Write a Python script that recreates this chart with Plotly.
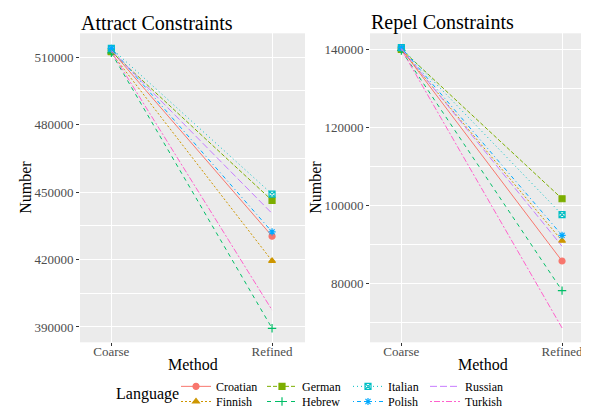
import plotly.graph_objects as go

methods = ["Coarse", "Refined"]
languages = ["Croatian", "Finnish", "German", "Hebrew", "Italian", "Polish", "Russian", "Turkish"]

attract_coarse = [513000, 512000, 512500, 512000, 514000, 514000, 513000, 512500]
attract_refined = [430400, 419400, 446300, 389400, 449100, 432300, 440500, 397500]
repel_coarse = [140200, 140000, 140100, 139800, 140500, 140500, 140300, 140100]
repel_refined = [85700, 90900, 101700, 78100, 97600, 92300, 89500, 68500]

attract_ticks = [390000, 420000, 450000, 480000, 510000]
attract_minor = [405000, 435000, 465000, 495000]
repel_ticks = [80000, 100000, 120000, 140000]
repel_minor = [70000, 90000, 110000, 130000]

colors = ["#F8766D", "#CD9600", "#7CAE00", "#00BE67", "#00BFC4", "#00A9FF", "#C77CFF", "#FF61CC"]
symbols = ["circle", "triangle-up", "square", "cross-thin-open", "square-x-open", "asterisk-open", None, None]
dashes = ["solid", "2px,2px", "4px,2px", "4px,4px", "1px,3px", "1px,3px,4px,3px", "7px,3px", "2px,2px,6px,2px"]

W, H = 589, 408
FONT = "Liberation Serif, Times New Roman, serif"

def px(x):
    return x / W

def py(y):
    return (H - y) / H

fig = go.Figure()

# legend placement (column-major like ggplot)
leg_text_x = [216, 216, 302, 302, 388, 388, 465, 465]
leg_row_y = [384, 399.5, 384, 399.5, 384, 399.5, 384, 399.5]

for i, lang in enumerate(languages):
    legname = "legend" if i == 0 else f"legend{i+1}"
    sym = symbols[i]
    mode = "lines+markers" if sym else "lines"
    marker = dict(symbol=sym, size=6, color=colors[i], line=dict(color=colors[i], width=1.2)) if sym else None
    fig.add_trace(go.Scatter(
        x=methods, y=[attract_coarse[i], attract_refined[i]], mode=mode, name=lang,
        line=dict(color=colors[i], width=1.0, dash=dashes[i]), marker=marker,
        xaxis="x", yaxis="y", legend=legname, showlegend=True))
    fig.add_trace(go.Scatter(
        x=methods, y=[repel_coarse[i], repel_refined[i]], mode=mode, name=lang,
        line=dict(color=colors[i], width=1.0, dash=dashes[i]), marker=marker,
        xaxis="x2", yaxis="y2", showlegend=False))

ydom = [py(339.3), py(25.7)]

def axis(**kw):
    d = dict(
        showline=False, zeroline=False, ticks="outside", ticklen=3, tickcolor="#333333",
        tickwidth=1, gridcolor="white", gridwidth=1.1, showgrid=True,
        tickfont=dict(family=FONT, size=13, color="#4D4D4D"))
    d.update(kw)
    return d

layout = dict(
    width=W, height=H, autosize=False,
    margin=dict(l=0, r=0, t=0, b=0),
    paper_bgcolor="white", plot_bgcolor="#EBEBEB",
    font=dict(family=FONT, color="black"),
    xaxis=axis(domain=[px(72), px(297)], type="category", range=[-0.195, 1.205], anchor="y",
               ticklabelstandoff=-6),
    yaxis=axis(domain=ydom, range=[383160, 520660], tickvals=attract_ticks,
               ticktext=[str(v) for v in attract_ticks], anchor="x",
               minor=dict(tickvals=attract_minor, showgrid=True, gridcolor="white", gridwidth=0.55, ticks="")),
    xaxis2=axis(domain=[px(362), px(587)], type="category", range=[-0.195, 1.205], anchor="y2",
                ticklabelstandoff=-6),
    yaxis2=axis(domain=ydom, range=[64810, 144200], tickvals=repel_ticks,
                ticktext=[str(v) for v in repel_ticks], anchor="x2",
                minor=dict(tickvals=repel_minor, showgrid=True, gridcolor="white", gridwidth=0.55, ticks="")),
)

for i in range(len(languages)):
    key = "legend" if i == 0 else f"legend{i+1}"
    layout[key] = dict(
        x=px(leg_text_x[i] - 48), y=py(leg_row_y[i]), xanchor="left", yanchor="middle",
        orientation="v", bgcolor="rgba(0,0,0,0)", borderwidth=0,
        font=dict(family=FONT, size=12, color="black"), itemwidth=30)

fig.update_layout(**layout)

ann = [
    dict(text="Attract Constraints", x=px(71), y=py(15), xanchor="left", yanchor="middle", font=dict(size=20, color="black")),
    dict(text="Repel Constraints", x=px(361), y=py(15), xanchor="left", yanchor="middle", font=dict(size=20, color="black")),
    dict(text="Number", x=px(18), y=py(182.5), textangle=-90, xanchor="center", yanchor="middle", font=dict(size=16, color="black")),
    dict(text="Number", x=px(308), y=py(182.5), textangle=-90, xanchor="center", yanchor="middle", font=dict(size=16, color="black")),
    dict(text="Method", x=px(184.5), y=py(362), xanchor="center", yanchor="middle", font=dict(size=16, color="black")),
    dict(text="Method", x=px(474.5), y=py(362), xanchor="center", yanchor="middle", font=dict(size=16, color="black")),
    dict(text="Language", x=px(139), y=py(392), xanchor="center", yanchor="middle", font=dict(size=16, color="black")),
]
for a in ann:
    a.update(xref="paper", yref="paper", showarrow=False)
    a["font"]["family"] = FONT
fig.update_layout(annotations=ann)

fig.write_html("out.html")
